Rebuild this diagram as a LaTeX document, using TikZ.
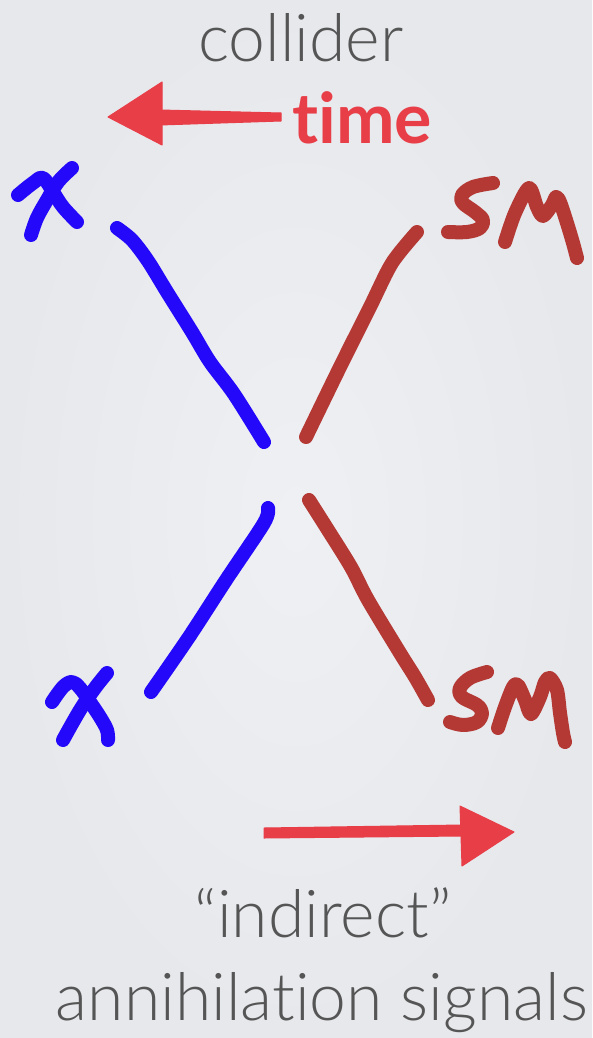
\documentclass[tikz,border=0pt]{standalone}
\usepackage{fontspec}
\setmainfont{Lato}[Ligatures={TeX,NoCommon}]
\newfontfamily\thinfont{Lato Light}[Ligatures={TeX,NoCommon}]
\usetikzlibrary{positioning}
\definecolor{slidebg}{RGB}{239,240,243}
\definecolor{slideedge}{RGB}{230,232,236}
\definecolor{chiblue}{RGB}{36,8,250}
\definecolor{smred}{RGB}{180,57,52}
\definecolor{timered}{RGB}{232,62,72}
\definecolor{labelgray}{RGB}{85,85,85}

\begin{document}
\begin{tikzpicture}[
    x=1pt,
    y=-1pt,
    ink/.style={line width=14pt, line cap=round, line join=round},
    chi/.style={ink, draw=chiblue},
    sm/.style={ink, draw=smred},
    caption/.style={inner sep=0pt, anchor=base, text=labelgray, font=\thinfont\fontsize{66}{70}\selectfont},
    timelabel/.style={inner sep=0pt, anchor=base west, text=timered, font=\bfseries\fontsize{70}{76}\selectfont},
    arrowink/.style={fill=timered, draw=timered, line width=1pt, line join=round}
  ]
    \useasboundingbox (0,0) rectangle (592,1038);
    \shade[inner color=slidebg, outer color=slideedge] (0,0) rectangle (592,1038);

    % labels
    \node[caption] (collider) at (301,62) {collider};
    \node[timelabel] (time) at (292,143) {time};
    \node[caption] (indirect) at (323,937) {“indirect”};
    \node[caption] (signals) at (322,1020) {annihilation signals};

    % time arrows
    \fill[arrowink] (108,117) -- (162,82) -- (162,145) -- cycle;
    \fill[arrowink] (160,110) -- (281,113) -- (281,121) -- (160,125) -- cycle;
    \fill[arrowink] (264,828) -- (462,825) -- (462,836) -- (264,838) -- cycle;
    \fill[arrowink] (460,806) -- (514,832) -- (462,866) -- cycle;

    % upper left chi
    \draw[chi] plot[smooth, tension=0.6] coordinates {(18,195) (33,183) (43,178) (53,192) (63,207) (77,222)};
    \draw[chi] plot[smooth, tension=0.6] coordinates {(72,168) (58,182) (47,200) (37,218) (31,235)};
    % lower left chi
    \draw[chi] plot[smooth, tension=0.6] coordinates {(52,702) (63,687) (72,682) (80,688) (90,702) (100,717) (107,730) (108,740)};
    \draw[chi] plot[smooth, tension=0.6] coordinates {(107,673) (95,688) (80,710) (63,740)};

    % upper right SM
    \draw[sm] plot[smooth, tension=0.6] coordinates {(493,183) (473,187) (462,195) (463,203) (475,212) (483,220) (480,228) (467,232) (448,232)};
    \draw[sm] plot[smooth, tension=0.5] coordinates {(505,242) (515,213) (529,188) (537,207) (543,216) (552,205) (556,197) (560,202) (567,223) (573,243) (577,258)};
    % lower right SM
    \draw[sm] plot[smooth, tension=0.6] coordinates {(487,672) (470,678) (460,688) (462,697) (477,705) (482,713) (477,722) (463,725) (450,722)};
    \draw[sm] plot[smooth, tension=0.5] coordinates {(498,728) (505,707) (513,687) (518,685) (525,700) (531,714) (540,697) (545,682) (550,678) (557,690) (560,713) (563,733) (565,742)};

    % incoming chi lines
    \draw[chi] plot[smooth, tension=0.5] coordinates {(117,228) (132,240) (148,261) (167,292) (192,332) (210,362) (234,394) (264,442)};
    \draw[chi] plot[smooth, tension=0.5] coordinates {(268,508) (264,523) (226,580) (189,637) (151,692)};
    % outgoing SM lines
    \draw[sm] plot[smooth, tension=0.5] coordinates {(417,232) (392,263) (370,307) (340,367) (306,437)};
    \draw[sm] plot[smooth, tension=0.5] coordinates {(309,500) (328,530) (351,567) (368,600) (400,653) (415,677) (428,700)};
  \end{tikzpicture}
\end{document}
